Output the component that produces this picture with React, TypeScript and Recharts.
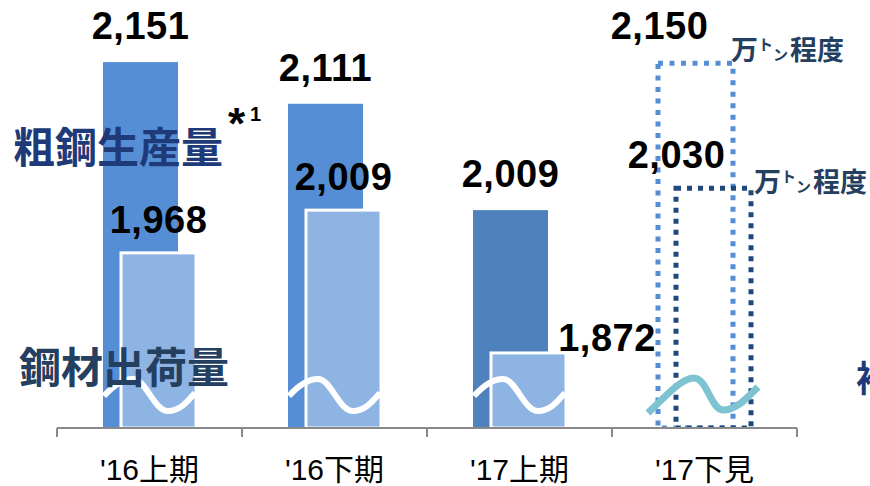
import { Bar, BarChart, LabelList, XAxis, YAxis } from 'recharts'

// 粗鋼生産量 / 鋼材出荷量 (万トン), last period is a forecast
const categories = ["'16上期", "'16下期", "'17上期", "'17下見"]
const crudeSteel = [2151, 2111, 2009, 2150]
const steelShipments = [1968, 2009, 1872, 2030]

const data = categories.map((name, i) => ({
  name,
  crude: crudeSteel[i],
  shipments: steelShipments[i],
}))

const NUM_FONT = "'Liberation Sans', Arial, 'Noto Sans CJK JP', sans-serif"
const JP_FONT = "'Noto Sans CJK JP', 'Noto Sans', sans-serif"
const isForecast = (i: number) => categories[i].includes('見')
const fmt = (v: number) => v.toLocaleString('en-US')

const Suffix = ({ x, y }: { x: number; y: number }) => (
  <text x={x} y={y} fontFamily={JP_FONT} fontWeight={700} fill='#243F60' fontSize={27}>
    <tspan>万</tspan>
    <tspan fontSize={15} dy={-10}>ト</tspan>
    <tspan fontSize={15} dy={10}>ン</tspan>
    <tspan dx={2}>程度</tspan>
  </text>
)

const numProps = {
  fontFamily: NUM_FONT,
  fontWeight: 700,
  fontSize: 38,
  letterSpacing: 0.5,
  fill: '#000',
  textAnchor: 'middle' as const,
}

const CrudeShape = (props: any) => {
  const { x, y, width, height, index } = props
  if (isForecast(index)) {
    return (
      <rect x={x} y={y} width={width} height={height} fill='none'
        stroke='#558ED5' strokeWidth={5} strokeDasharray='5 6.5' />
    )
  }
  return <rect x={x} y={y} width={width} height={height} fill={index === 2 ? '#4F81BD' : '#558ED5'} />
}

const ShipmentShape = (props: any) => {
  const { x, y, width, height, index } = props
  const b = y + height
  const x0 = x + width - 92
  if (isForecast(index)) {
    return (
      <g>
        <rect x={x} y={y} width={width} height={height} fill='none'
          stroke='#1F497D' strokeWidth={5} strokeDasharray='5 6' />
        <path
          d={`M${x0 - 11},${b - 15} C${x0 + 5},${b - 30} ${x0 + 22},${b - 50} ${x0 + 35},${b - 50} C${x0 + 48},${b - 50} ${x0 + 52},${b - 18} ${x0 + 64},${b - 18} C${x0 + 78},${b - 18} ${x0 + 90},${b - 32} ${x0 + 99},${b - 41}`}
          fill='none' stroke='#7EC3D2' strokeWidth={7} />
      </g>
    )
  }
  return (
    <g>
      <rect x={x} y={y} width={width} height={height} fill='#8EB4E3' stroke='#fff' strokeWidth={3} />
      <path
        d={`M${x0},${b - 32} C${x0 + 9},${b - 42} ${x0 + 19},${b - 49} ${x0 + 29},${b - 49} C${x0 + 42},${b - 49} ${x0 + 50},${b - 17} ${x0 + 64},${b - 17} C${x0 + 76},${b - 17} ${x0 + 84},${b - 27} ${x0 + 91},${b - 35}`}
        fill='none' stroke='#fff' strokeWidth={6} />
    </g>
  )
}

const CrudeLabel = (props: any) => {
  const { x, y, width, value, index } = props
  const cx = x + width / 2
  if (isForecast(index)) {
    return (
      <g>
        <text x={cx - 36} y={y - 24} {...numProps}>{fmt(value)}</text>
        <Suffix x={x + width - 2} y={y - 3} />
      </g>
    )
  }
  return <text x={cx} y={y - 23} {...numProps}>{fmt(value)}</text>
}

const ShipmentLabel = (props: any) => {
  const { x, y, width, value, index } = props
  const cx = x + width / 2
  if (isForecast(index)) {
    return (
      <g>
        <text x={cx - 37} y={y - 20} {...numProps}>{fmt(value)}</text>
        <Suffix x={x + width + 3} y={y + 4} />
      </g>
    )
  }
  if (index === 2) {
    return <text x={x + width + 41} y={y - 2} {...numProps}>{fmt(value)}</text>
  }
  return <text x={cx} y={y - 20} {...numProps}>{fmt(value)}</text>
}

const CategoryTick = (props: any) => {
  const { x, y, payload, index } = props
  const off = payload.offset ?? 92.5
  return (
    <g>
      <line x1={x - off} x2={x - off} y1={y} y2={y + 9} stroke='#898989' strokeWidth={2} />
      {index === categories.length - 1 && (
        <line x1={x + off} x2={x + off} y1={y} y2={y + 9} stroke='#898989' strokeWidth={2} />
      )}
      <text x={x} y={y + 52} textAnchor='middle' fontSize={30} fontFamily={NUM_FONT} fill='#000'>
        {payload.value}
      </text>
    </g>
  )
}

export default function App() {
  return (
    <div style={{ position: 'absolute', left: 0, top: 0, width: 870, height: 486, background: '#fff' }}>
      <BarChart
        width={870}
        height={486}
        data={data}
        margin={{ top: 11, right: 73, bottom: 0, left: 57 }}
        barGap={-57}
        barCategoryGap={0}
      >
        <XAxis
          dataKey='name'
          height={58}
          interval={0}
          axisLine={{ stroke: '#898989', strokeWidth: 2 }}
          tickLine={false}
          tickSize={0}
          tickMargin={0}
          tick={<CategoryTick />}
        />
        <YAxis hide width={0} type='number' domain={[1800, 2200]} allowDataOverflow />
        <Bar dataKey='crude' barSize={75} isAnimationActive={false} shape={CrudeShape}>
          <LabelList dataKey='crude' content={CrudeLabel} />
        </Bar>
        <Bar dataKey='shipments' barSize={75} isAnimationActive={false} shape={ShipmentShape}>
          <LabelList dataKey='shipments' content={ShipmentLabel} />
        </Bar>
      </BarChart>
      <svg width={870} height={486} style={{ position: 'absolute', left: 0, top: 0, pointerEvents: 'none' }}>
        <text x={118} y={144} fontSize={42} fontWeight={700} fill='#1F3A78' textAnchor='middle'
          dominantBaseline='central' fontFamily={JP_FONT}>粗鋼生産量</text>
        <text x={228} y={139} fontSize={44} fontWeight={700} fill='#000' fontFamily={NUM_FONT}>*</text>
        <text x={250} y={121} fontSize={20} fontWeight={700} fill='#000' fontFamily={NUM_FONT}>1</text>
        <text x={124} y={364} fontSize={42} fontWeight={700} fill='#243F60' textAnchor='middle'
          dominantBaseline='central' fontFamily={JP_FONT}>鋼材出荷量</text>
        <text x={856} y={376} fontSize={36} fontWeight={700} fill='#1F3A78'
          dominantBaseline='central' fontFamily={JP_FONT}>補</text>
      </svg>
    </div>
  )
}
